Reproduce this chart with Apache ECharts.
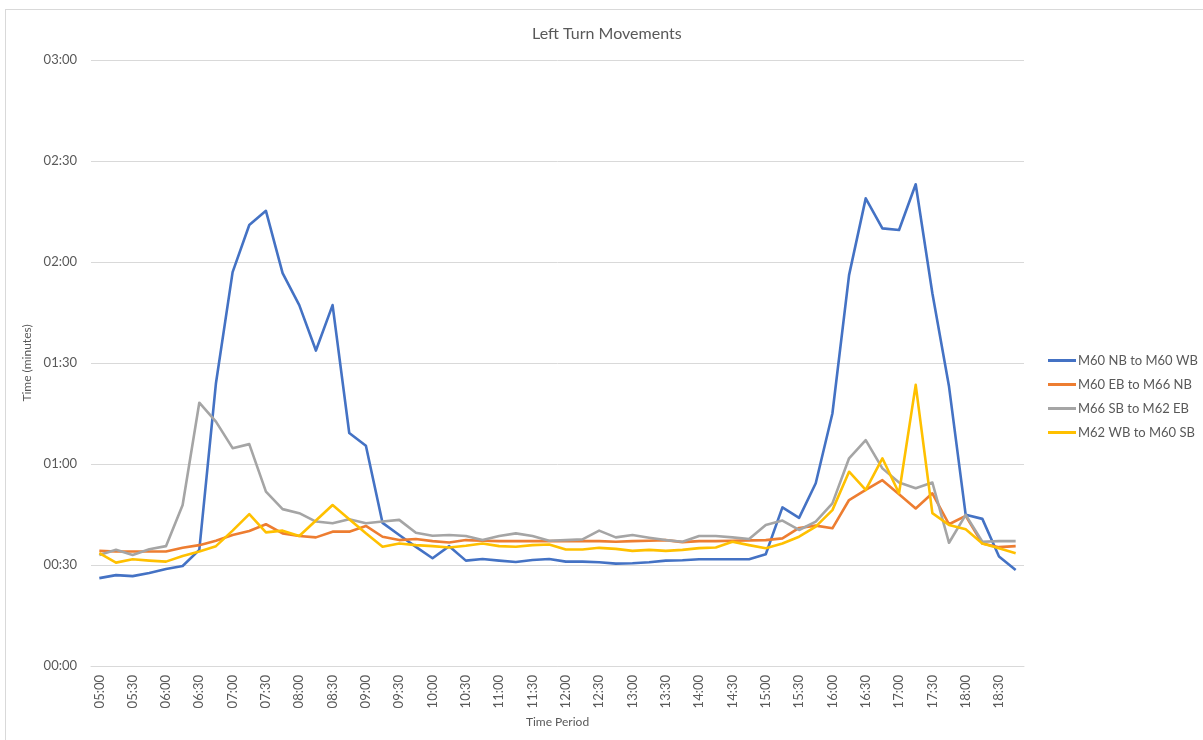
<!DOCTYPE html>
<html>
<head>
<meta charset="utf-8">
<script src="https://cdn.jsdelivr.net/npm/echarts@6/dist/echarts.min.js"></script>
<style>
  html, body { margin: 0; padding: 0; background: #ffffff; }
  #frame { position: absolute; left: 5px; top: 9px; width: 1300px; height: 800px; border: 1px solid #d9d9d9; box-sizing: border-box; }
  #chart { position: absolute; left: 0; top: 0; width: 1203px; height: 740px; }
</style>
</head>
<body>
<div id="frame"></div>
<div id="chart"></div>
<script>
// Time periods (15-minute intervals)
const categories = [
  "05:00","05:15","05:30","05:45","06:00","06:15","06:30","06:45",
  "07:00","07:15","07:30","07:45","08:00","08:15","08:30","08:45",
  "09:00","09:15","09:30","09:45","10:00","10:15","10:30","10:45",
  "11:00","11:15","11:30","11:45","12:00","12:15","12:30","12:45",
  "13:00","13:15","13:30","13:45","14:00","14:15","14:30","14:45",
  "15:00","15:15","15:30","15:45","16:00","16:15","16:30","16:45",
  "17:00","17:15","17:30","17:45","18:00","18:15","18:30","18:45"
];

// Values in seconds
const m60nbToM60wb = [
  26.1, 27.0, 26.7, 27.6, 28.8, 29.7, 34.5, 84.0,
  117.0, 131.0, 135.2, 116.7, 107.2, 93.7, 107.2, 69.2,
  65.4, 42.5, 38.9, 35.4, 32.0, 35.6, 31.3, 31.8,
  31.3, 30.9, 31.5, 31.8, 31.0, 31.0, 30.8, 30.4,
  30.5, 30.8, 31.3, 31.4, 31.7, 31.7, 31.7, 31.7,
  33.2, 47.1, 44.0, 54.3, 75.0, 116.1, 138.9, 130.0,
  129.5, 143.1, 110.7, 83.0, 44.9, 43.7, 32.5, 28.5
];
const m60ebToM66nb = [
  34.2, 34.0, 34.0, 34.0, 34.0, 35.1, 35.9, 37.2,
  38.9, 40.1, 42.1, 39.4, 38.6, 38.2, 39.9, 39.9,
  41.6, 38.4, 37.4, 37.7, 37.1, 36.7, 37.4, 37.2,
  37.1, 37.1, 37.1, 37.1, 37.1, 37.1, 37.1, 36.9,
  37.1, 37.2, 37.4, 36.8, 37.1, 37.1, 37.2, 37.3,
  37.4, 37.9, 41.0, 41.7, 40.9, 49.3, 52.3, 55.2,
  51.0, 46.8, 51.3, 42.1, 44.6, 36.4, 35.3, 35.6
];
const m66sbToM62eb = [
  33.0, 34.5, 33.0, 34.7, 35.6, 47.8, 78.2, 72.6,
  64.7, 65.9, 51.8, 46.6, 45.4, 42.9, 42.4, 43.6,
  42.4, 42.9, 43.4, 39.6, 38.7, 38.9, 38.6, 37.4,
  38.6, 39.4, 38.6, 37.2, 37.4, 37.6, 40.2, 38.2,
  38.9, 38.1, 37.4, 36.9, 38.6, 38.6, 38.2, 37.7,
  41.9, 43.2, 40.4, 42.9, 48.3, 61.7, 67.1, 58.7,
  54.5, 52.8, 54.5, 36.6, 44.9, 36.9, 37.1, 37.1
];
const m62wbToM60sb = [
  33.5, 30.7, 31.7, 31.3, 31.0, 32.7, 34.0, 35.6,
  40.2, 45.1, 39.7, 40.2, 38.6, 43.2, 47.8, 43.6,
  39.4, 35.4, 36.4, 35.9, 35.6, 35.2, 35.7, 36.4,
  35.6, 35.4, 35.9, 36.1, 34.6, 34.6, 35.1, 34.8,
  34.2, 34.5, 34.2, 34.5, 35.0, 35.2, 36.9, 35.9,
  35.0, 36.4, 38.4, 41.4, 46.3, 57.7, 52.3, 61.7,
  51.3, 83.5, 45.4, 41.9, 40.6, 36.4, 35.0, 33.5
];

const seriesNames = ["M60 NB to M60 WB", "M60 EB to M66 NB", "M66 SB to M62 EB", "M62 WB to M60 SB"];
const seriesColors = ["#4472C4", "#ED7D31", "#A5A5A5", "#FFC000"];
const seriesData = [m60nbToM60wb, m60ebToM66nb, m66sbToM62eb, m62wbToM60sb];

const yTickValues = [0, 30, 60, 90, 120, 150, 180];

function fmt(v) {
  const m = Math.floor(v / 60);
  const s = Math.round(v % 60);
  return String(m).padStart(2, "0") + ":" + String(s).padStart(2, "0");
}

const FONT = "Lato, 'Liberation Sans', sans-serif";
const TXT = "#595959";

const chart = echarts.init(document.getElementById("chart"), null, { renderer: "canvas" });
chart.setOption({
  backgroundColor: "transparent",
  animation: false,
  title: {
    text: "Left Turn Movements",
    left: 527,
    top: 21,
    textStyle: { fontFamily: FONT, fontSize: 16, fontWeight: "normal", color: TXT }
  },
  legend: {
    orient: "vertical",
    left: 1043,
    top: 349,
    itemWidth: 28,
    itemHeight: 14,
    itemGap: 11,
    icon: "path://M0,0 L28,0 L28,3 L0,3 Z",
    textStyle: { fontFamily: FONT, fontSize: 13, color: TXT, padding: [0, 0, 0, -3] },
    data: seriesNames
  },
  grid: { left: 91, right: 179, top: 60, bottom: 74, containLabel: false },
  xAxis: {
    type: "category",
    data: categories,
    boundaryGap: true,
    name: "Time Period",
    nameLocation: "middle",
    nameGap: 49,
    nameTextStyle: { fontFamily: FONT, fontSize: 12, color: TXT },
    axisLine: { show: true, lineStyle: { color: "#d9d9d9", width: 1 } },
    axisTick: { show: false },
    axisLabel: { interval: 1, rotate: 90, margin: 9, fontFamily: FONT, fontSize: 13, color: TXT }
  },
  yAxis: {
    type: "value",
    min: yTickValues[0],
    max: yTickValues[yTickValues.length - 1],
    interval: 30,
    name: "Time (minutes)",
    nameLocation: "middle",
    nameGap: 55,
    nameRotate: 90,
    nameTextStyle: { fontFamily: FONT, fontSize: 12, color: TXT },
    axisLine: { show: false },
    axisTick: { show: false },
    splitLine: { show: true, lineStyle: { color: "#d9d9d9", width: 1 } },
    axisLabel: { margin: 14, fontFamily: FONT, fontSize: 13, color: TXT, formatter: fmt }
  },
  series: seriesNames.map((n, i) => ({
    name: n,
    type: "line",
    data: seriesData[i],
    symbol: "none",
    color: seriesColors[i],
    lineStyle: { width: 2.6, color: seriesColors[i], join: "round" },
    z: 2 + i
  }))
});
</script>
</body>
</html>
